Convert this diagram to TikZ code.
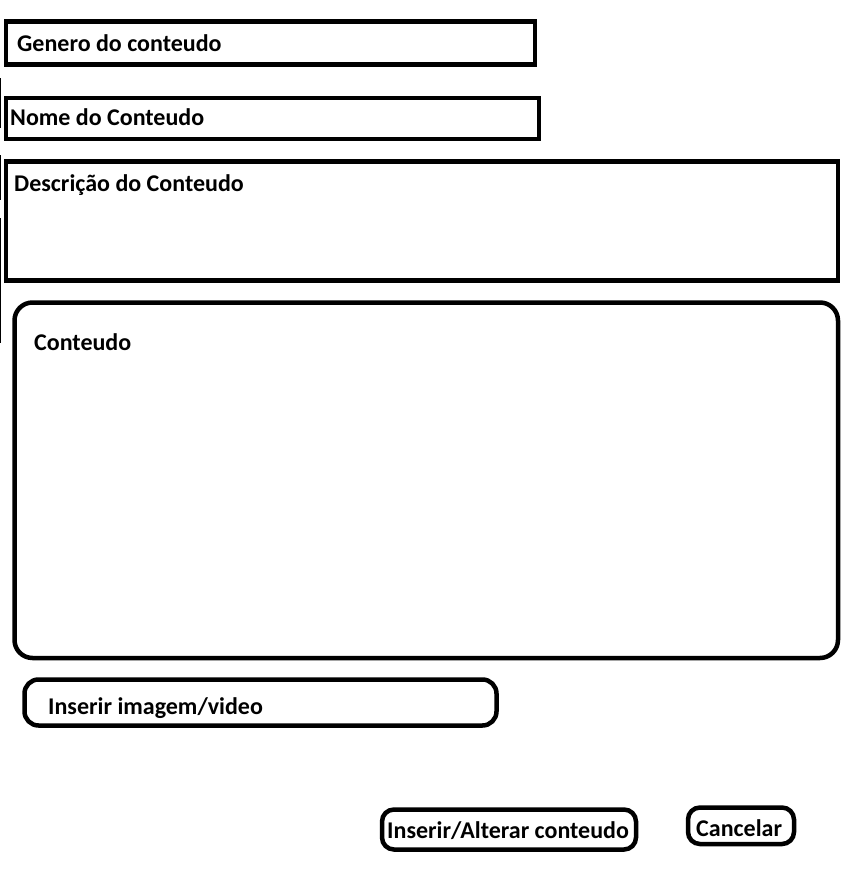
\documentclass[tikz,border=0pt]{standalone}
\usepackage{fontspec}
\setmainfont{Carlito}
\begin{document}
\begin{tikzpicture}[x=1pt,y=-1pt,
  campo/.style={draw, line width=4.5pt, inner sep=0pt, outer sep=0pt, anchor=north west},
  botao/.style={campo, rounded corners=14pt},
  rotulo/.style={anchor=base west, inner sep=0pt, font=\bfseries\fontsize{24}{28}\selectfont}]
\useasboundingbox (0,0) rectangle (846,870);

%Stray strokes on the left edge
\draw[line width=1.5pt] (0.7,78) -- (0.7,128);
\draw[line width=1.5pt] (0.7,155) -- (0.7,200);
\draw[line width=1.5pt] (0.7,218) -- (0.7,343);

%Fields
\node[campo, minimum width=529pt, minimum height=43pt] (genero) at (6,21.5) {};
\node[campo, minimum width=533pt, minimum height=41pt] (nome) at (6,98) {};
\node[campo, minimum width=832pt, minimum height=119pt] (descricao) at (6,161.5) {};
\node[campo, rounded corners=18pt, minimum width=823.5pt, minimum height=355.5pt] (conteudo) at (14.5,302.5) {};

%Labels
\node[rotulo] (tgenero) at (17,51.5) {Genero do conteudo};
\node[rotulo] (tnome) at (10,125.5) {Nome do Conteudo};
\node[rotulo] (tdescricao) at (14,191) {Descrição do Conteudo};
\node[rotulo] (tconteudo) at (34,350) {Conteudo};

%Buttons
\node[botao, minimum width=472pt, minimum height=46pt] (imagem) at (24.5,679.5) {};
\node[rotulo] (timagem) at (48,714) {Inserir imagem/video};

\node[botao, rounded corners=12pt, minimum width=254pt, minimum height=40pt] (inserir) at (382,809.5) {};
\node[rotulo] (tinserir) at (387,838) {Inserir/Alterar conteudo};

\node[botao, rounded corners=12pt, minimum width=106pt, minimum height=36.5pt] (cancelar) at (688,807.5) {};
\node[rotulo] (tcancelar) at (696,836) {Cancelar};
\end{tikzpicture}
\end{document}
